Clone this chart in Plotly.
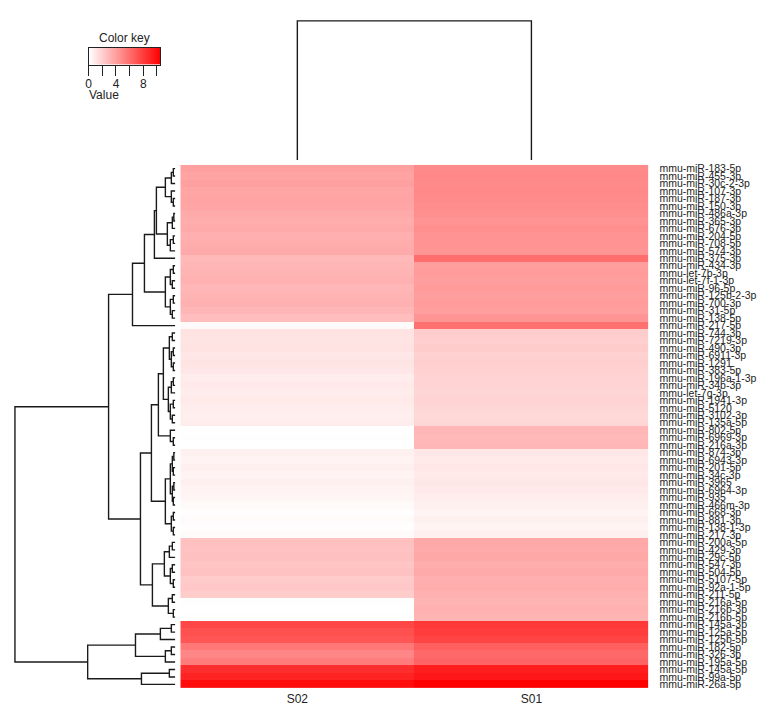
import numpy as np
import plotly.graph_objects as go

W, H = 765, 712

mirnas = [
    "mmu-miR-183-5p", "mmu-miR-455-3p", "mmu-miR-30c-2-3p", "mmu-miR-107-3p", "mmu-miR-187-3p",
    "mmu-miR-150-3p", "mmu-miR-486a-3p", "mmu-miR-365-3p", "mmu-miR-676-3p", "mmu-miR-204-5p",
    "mmu-miR-708-5p", "mmu-miR-574-3p", "mmu-miR-375-3p", "mmu-miR-434-3p", "mmu-let-7b-3p",
    "mmu-let-7f-1-3p", "mmu-miR-96-5p", "mmu-miR-125b-2-3p", "mmu-miR-700-3p", "mmu-miR-31-5p",
    "mmu-miR-138-5p", "mmu-miR-217-5p", "mmu-miR-744-3p", "mmu-miR-7219-3p", "mmu-miR-490-3p",
    "mmu-miR-6911-3p", "mmu-miR-1291", "mmu-miR-383-5p", "mmu-miR-196a-1-3p", "mmu-miR-34b-3p",
    "mmu-let-7g-3p", "mmu-miR-1941-3p", "mmu-miR-5120", "mmu-miR-3102-3p", "mmu-miR-135a-5p",
    "mmu-miR-802-5p", "mmu-miR-6969-3p", "mmu-miR-216a-3p", "mmu-miR-874-3p", "mmu-miR-6943-3p",
    "mmu-miR-201-5p", "mmu-miR-34c-3p", "mmu-miR-3965", "mmu-miR-6964-3p", "mmu-miR-935",
    "mmu-miR-466m-3p", "mmu-miR-668-3p", "mmu-miR-881-3p", "mmu-miR-138-1-3p", "mmu-miR-217-3p",
    "mmu-miR-200a-5p", "mmu-miR-429-3p", "mmu-miR-29c-5p", "mmu-miR-547-3p", "mmu-miR-504-5p",
    "mmu-miR-5107-5p", "mmu-miR-92a-1-5p", "mmu-miR-211-5p", "mmu-miR-216a-5p", "mmu-miR-216b-3p",
    "mmu-miR-216b-5p", "mmu-miR-145a-3p", "mmu-miR-125a-5p", "mmu-miR-125b-5p", "mmu-miR-182-5p",
    "mmu-miR-326-3p", "mmu-miR-195a-5p", "mmu-miR-145a-5p", "mmu-miR-99a-5p", "mmu-miR-26a-5p",
]

samples = ["S02", "S01"]

s02 = [
    3.9, 3.8, 3.9, 3.7, 3.8, 3.7,
    3.5, 3.4, 3.5, 3.3, 3.4, 3.5,
    2.9,
    3.0,
    3.1, 3.2, 3.0, 3.1, 3.2, 3.0, 2.7,
    0.2,
    1.2, 1.1, 1.2, 1.0, 1.1, 1.0,
    0.8, 0.9, 0.8, 0.9, 0.8, 0.7, 0.8,
    0.0, 0.05, 0.0,
    0.6, 0.5, 0.6, 0.5, 0.6, 0.5, 0.4,
    0.2, 0.1, 0.15, 0.1, 0.2,
    2.6, 2.5, 2.6, 2.4, 2.5, 2.2, 2.3, 2.1,
    0.05, 0.0, 0.05,
    7.6, 7.2, 7.0, 5.6, 5.0, 5.4, 8.6, 9.0, 10.0,
]

s01 = [
    4.8, 4.9, 4.8, 4.9, 4.8, 4.7,
    4.6, 4.5, 4.6, 4.5, 4.5, 4.4,
    6.0,
    4.0,
    4.1, 4.0, 4.1, 4.0, 4.1, 4.0, 4.4,
    5.9,
    2.1, 2.0, 2.1, 1.9, 2.0, 1.9,
    1.8, 1.8, 1.7, 1.8, 1.7, 1.6, 1.7,
    3.0, 2.9, 3.0,
    1.0, 0.9, 1.0, 0.9, 1.0, 0.9, 0.8,
    0.6, 0.5, 0.6, 0.5, 0.6,
    3.6, 3.5, 3.6, 3.4, 3.5, 3.3, 3.4, 3.2,
    3.1, 3.2, 3.1,
    8.2, 8.0, 7.7, 6.6, 6.2, 6.4, 9.3, 9.6, 10.5,
]

# row dendrogram: (merge height, left, right); leaves are row indices
row_tree = (161,
    (67,
        (43,
            (31,
                (21,
                    (19,
                        (10, (4, (2, 0, 1), 2), (4, 3, (2, 4, 5))),
                        (8, (3, (1.5, 6, 7), 8), (5, (2, 9, 10), 11))),
                    12),
                (10, (5, (2, 13, 14), (3, 15, 16)), (5, (2, 17, 18), (3, 19, 20)))),
            21),
        (35,
            (24,
                (17,
                    (12,
                        (6, (3, 22, 23), (4, (2, 24, 25), (2, 26, 27))),
                        (7, (4, (2, 28, 29), 30), (5, (2, 31, 32), (3, 33, 34)))),
                    (5, 35, (2, 36, 37))),
                (10,
                    (5, (3, (1.5, 38, 39), (2, 40, 41)), (3, (1.5, 42, 43), (2, 44, 45))),
                    (4, (2, 46, 47), (2, 48, 49)))),
            (23,
                (11, (6, (3, 50, 51), 52), (5, (3, 53, 54), (2, 55, 56))),
                (7, (3, 57, 58), (2, 59, 60))))),
    (88,
        (40, (15, (4, 61, 62), 63), (10, (4, 64, 65), 66)),
        (34, (6, 67, 68), 69)))

col_tree = (140, 0, 1)

key_min, key_max = 0, 10.5
key_ticks = [0, 2, 4, 6, 8, 10]
key_ticktext = ["0", "", "4", "", "8", ""]


def dendro_segments(node, xs, ys, horizontal):
    """Return (position, height) of node, appending drawing segments."""
    if not isinstance(node, tuple):
        return float(node), 0.0
    h, left, right = node
    pl, hl = dendro_segments(left, xs, ys, horizontal)
    pr, hr = dendro_segments(right, xs, ys, horizontal)
    pts = [(pl, hl), (pl, h), (pr, h), (pr, hr)]
    for p, hh in pts:
        if horizontal:
            xs.append(hh); ys.append(p)
        else:
            xs.append(p); ys.append(hh)
    xs.append(None); ys.append(None)
    return (pl + pr) / 2.0, h


def px_x(p):
    return p / W


def px_y(p):
    return 1 - p / H


n = len(mirnas)
z = np.column_stack([s02, s01])
red_scale = [[0, "#FFFFFF"], [1, "#FF0000"]]

fig = go.Figure()

fig.add_trace(go.Heatmap(
    z=z, x=[0, 1], y=list(range(n)), colorscale=red_scale,
    zmin=key_min, zmax=key_max, showscale=False, xaxis="x", yaxis="y",
    hoverinfo="skip"))

rx, ry = [], []
dendro_segments(row_tree, rx, ry, horizontal=True)
fig.add_trace(go.Scatter(x=rx, y=ry, mode="lines", xaxis="x2", yaxis="y2",
                         line=dict(color="#1a1a1a", width=1.4), hoverinfo="skip",
                         showlegend=False))

cx, cy = [], []
dendro_segments(col_tree, cx, cy, horizontal=False)
fig.add_trace(go.Scatter(x=cx, y=cy, mode="lines", xaxis="x3", yaxis="y3",
                         line=dict(color="#1a1a1a", width=1.4), hoverinfo="skip",
                         showlegend=False))

key_vals = np.linspace(key_min, key_max, 211)
fig.add_trace(go.Heatmap(
    z=[key_vals], x=key_vals, y=[0], colorscale=red_scale,
    zmin=key_min, zmax=key_max, showscale=False, xaxis="x4", yaxis="y4",
    hoverinfo="skip"))

font_family = "Liberation Sans, Arial, sans-serif"

fig.update_layout(
    width=W, height=H,
    margin=dict(l=0, r=0, t=0, b=0),
    paper_bgcolor="white", plot_bgcolor="white",
    showlegend=False,
    font=dict(family=font_family, color="#222222"),
    xaxis=dict(domain=[px_x(178), px_x(648)], range=[-0.5, 1.5], anchor="y",
               tickvals=[0, 1], ticktext=samples, ticks="", showgrid=False,
               zeroline=False, showline=False, tickfont=dict(size=12, color="#222"),
               ticklabelstandoff=2),
    yaxis=dict(domain=[px_y(690), px_y(163)], range=[n - 0.5, -0.5], anchor="x",
               side="right", tickvals=list(range(n)), ticktext=mirnas, ticks="",
               showgrid=False, zeroline=False, showline=False,
               tickfont=dict(size=10.5, color="#222"), ticklabelstandoff=10),
    xaxis2=dict(domain=[0, px_x(173)], range=[173, 0], anchor="y2", visible=False),
    yaxis2=dict(domain=[px_y(690), px_y(163)], range=[n - 0.5, -0.5], anchor="x2",
                visible=False),
    xaxis3=dict(domain=[px_x(178), px_x(648)], range=[-0.5, 1.5], anchor="y3",
                visible=False),
    yaxis3=dict(domain=[px_y(158), 1], range=[0, 158], anchor="x3", visible=False),
    xaxis4=dict(domain=[px_x(86), px_x(158)], range=[key_min, key_max], anchor="y4",
                tickvals=key_ticks, ticktext=key_ticktext, ticks="outside", ticklen=10,
                tickwidth=1.3, tickcolor="#222", showline=True, mirror=True,
                linecolor="#222", linewidth=1.3, showgrid=False, zeroline=False,
                tickfont=dict(size=12, color="#222"), ticklabelstandoff=-2),
    yaxis4=dict(domain=[px_y(62), px_y(45)], range=[-0.5, 0.5], anchor="x4",
                showticklabels=False, ticks="", showline=True, mirror=True,
                linecolor="#222", linewidth=1.3, showgrid=False, zeroline=False),
    annotations=[
        dict(text="Color key", x=px_x(122), y=px_y(35), xref="paper", yref="paper",
             showarrow=False, font=dict(size=12, color="#222"), xanchor="center",
             yanchor="middle"),
        dict(text="Value", x=px_x(101), y=px_y(93), xref="paper", yref="paper",
             showarrow=False, font=dict(size=12, color="#222"), xanchor="center",
             yanchor="middle"),
    ],
)

fig.write_html("out.html", config={"displayModeBar": False},
               post_script="document.body.style.margin='0';document.body.style.padding='0';")
